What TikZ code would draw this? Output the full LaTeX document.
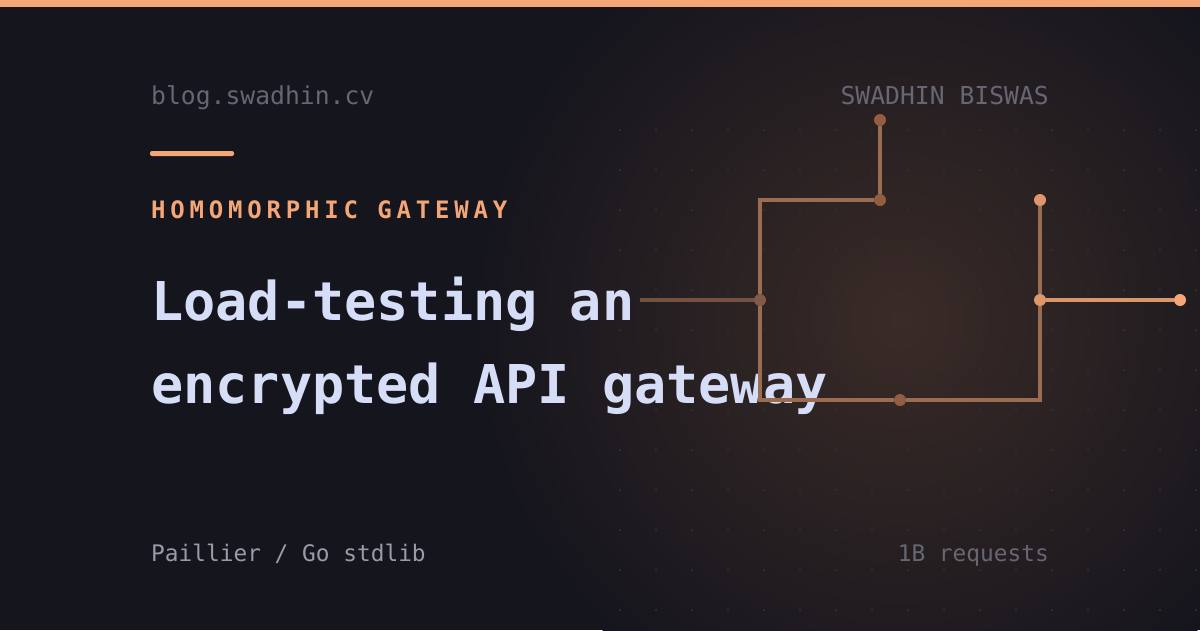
\documentclass[tikz,border=0pt]{standalone}
\usepackage{fontspec}
\setmonofont{DejaVu Sans Mono}
\newfontfamily\lsmono[LetterSpace=20]{DejaVu Sans Mono}
\newfontfamily\ttmono{DejaVu Sans Mono}
\definecolor{bg}{HTML}{15151D}
\definecolor{glow}{HTML}{3A2B27}
\definecolor{accent}{HTML}{F4A676}
\definecolor{titlec}{HTML}{D6DDF6}
\definecolor{greyc}{HTML}{666674}
\definecolor{greyl}{HTML}{9A9AA8}
\definecolor{wire}{HTML}{9C6C52}
\definecolor{dotc}{HTML}{33313A}
\begin{document}
\begin{tikzpicture}[x=1pt,y=-1pt,
  wire/.style={draw=wire,line width=3.2pt},
  pin/.style={circle,fill=#1,inner sep=0pt,minimum size=12pt},
  meta/.style={font=\ttmono\fontsize{24.7}{26}\selectfont,text=greyc,inner sep=0pt},
  foot/.style={font=\ttmono\fontsize{22.8}{24}\selectfont,text=greyl,inner sep=0pt},
  ttl/.style={font=\ttmono\fontsize{53.5}{60}\selectfont\bfseries,text=titlec,inner sep=0pt}]
\useasboundingbox (0,0) rectangle (1200,630);
\fill[bg] (0,0) rectangle (1200,630);
\begin{scope}
\clip (0,0) rectangle (1200,630);
\shade[inner color=glow,outer color=bg] (900,320) circle (430);
\foreach \x in {620,656,...,1200}{\foreach \y in {130,170,...,610}{\fill[dotc] (\x,\y) circle (1.1);}}
\end{scope}
\fill[accent] (0,0) rectangle (1200,7);
\fill[accent,rounded corners=2pt] (150,151) rectangle (234,156);
% texts
\node[meta,anchor=base west] (site) at (151,104) {blog.swadhin.cv};
\node[meta,anchor=base east] (author) at (1049,104) {SWADHIN BISWAS};
\node[anchor=base west,inner sep=0pt,text=accent,font=\lsmono\bfseries\fontsize{24}{26}\selectfont] (kicker) at (151,218) {HOMOMORPHIC GATEWAY};
\node[ttl,anchor=base west] (t1) at (151,320) {Load-testing an};
\node[ttl,anchor=base west] (t2) at (151,403) {encrypted API gateway};
\node[foot,anchor=base west] (stack) at (151,561) {Paillier / Go stdlib};
\node[foot,anchor=base east,text=greyc] (reqs) at (1049,561) {1B requests};
% circuit
\coordinate (in) at (640,300);
\coordinate (c1) at (760,200);
\coordinate (c2) at (760,400);
\coordinate (c3) at (1040,400);
\node[pin=wire!80!bg] (j1) at (760,300) {};
\node[pin=wire!110] (ta) at (880,120) {};
\node[pin=wire!110] (tb) at (880,200) {};
\node[pin=wire!110] (bm) at (900,400) {};
\node[pin={accent!75!wire}] (r1) at (1040,200) {};
\node[pin={accent!75!wire}] (r2) at (1040,300) {};
\node[pin=accent] (out) at (1180,300) {};
\draw[draw=wire!70!bg,line width=3.2pt] (in) -- (j1);
\draw[wire] (ta) -- (tb) -- (c1) -- (j1) -- (c2) -- (bm) -- (c3) -- (r2) -- (r1);
\draw[draw=accent!70!wire,line width=3.2pt] (r2) -- (out);
\end{tikzpicture}
\end{document}
